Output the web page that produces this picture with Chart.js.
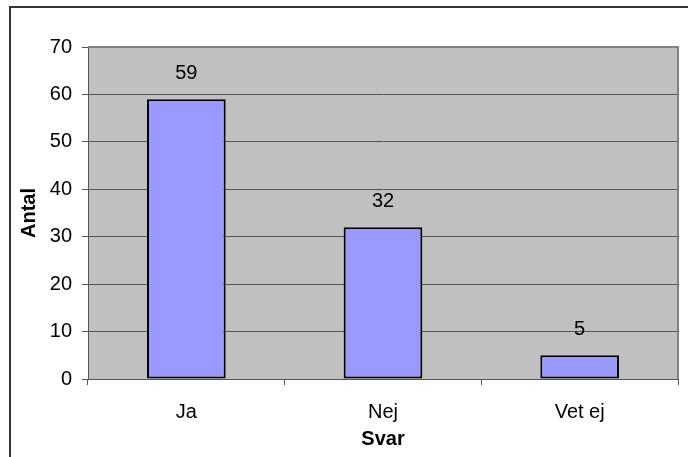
<!DOCTYPE html>
<html>
<head>
<meta charset="utf-8">
<script src="https://cdn.jsdelivr.net/npm/chart.js@4/dist/chart.umd.min.js"></script>
<style>
  body { margin: 0; background: #fff; }
  #wrap { width: 688px; height: 457px; }
</style>
</head>
<body>
<div id="wrap"><canvas id="svarChart" width="688" height="457"></canvas></div>
<script>
// Data
const categories = ['Ja', 'Nej', 'Vet ej'];
const antal = [59, 32, 5];
const yTicks = [0, 10, 20, 30, 40, 50, 60, 70];

const FONT = 'Liberation Sans, Arial, sans-serif';

// Plot area background, plot border and the outer chart frame
const frame = {
  id: 'frame',
  beforeDraw(chart) {
    const { ctx, chartArea: a } = chart;
    ctx.save();
    ctx.fillStyle = '#c0c0c0';
    ctx.fillRect(a.left, a.top, a.right - a.left, a.bottom - a.top);
    ctx.restore();
  },
  afterDraw(chart) {
    const { ctx, chartArea: a } = chart;
    ctx.save();
    // plot border (top & right)
    ctx.strokeStyle = '#808080';
    ctx.lineWidth = 2;
    ctx.beginPath();
    ctx.moveTo(a.left, a.top);
    ctx.lineTo(a.right, a.top);
    ctx.lineTo(a.right, a.bottom);
    ctx.stroke();
    // outer frame
    ctx.strokeStyle = '#333';
    ctx.lineWidth = 2;
    ctx.beginPath();
    ctx.moveTo(10, 460);
    ctx.lineTo(10, 7);
    ctx.lineTo(690, 7);
    ctx.stroke();
    ctx.restore();
  }
};

// Value labels above each bar
const valueLabels = {
  id: 'valueLabels',
  afterDatasetsDraw(chart) {
    const { ctx } = chart;
    const meta = chart.getDatasetMeta(0);
    ctx.save();
    ctx.font = '20px ' + FONT;
    ctx.fillStyle = '#000';
    ctx.textAlign = 'center';
    ctx.textBaseline = 'alphabetic';
    meta.data.forEach((bar, i) => {
      ctx.fillText(String(antal[i]), bar.x, bar.y - 20);
    });
    ctx.restore();
  }
};

new Chart(document.getElementById('svarChart'), {
  type: 'bar',
  data: {
    labels: categories,
    datasets: [{
      data: antal,
      backgroundColor: '#9999ff',
      borderColor: '#000',
      borderWidth: 2,
      borderSkipped: false,
      categoryPercentage: 1,
      barPercentage: 0.4
    }]
  },
  options: {
    responsive: false,
    animation: false,
    devicePixelRatio: 1,
    layout: { padding: { left: 10, top: 47, right: 10, bottom: 0 } },
    plugins: {
      legend: { display: false },
      tooltip: { enabled: false }
    },
    scales: {
      x: {
        offset: true,
        afterFit(scale) { scale.height = 78; },
        grid: {
          offset: true,
          drawOnChartArea: false,
          drawTicks: true,
          tickLength: 6,
          color: '#555'
        },
        border: { display: true, color: '#555', width: 1 },
        ticks: {
          padding: 15,
          color: '#000',
          font: { family: FONT, size: 20 }
        },
        title: {
          display: true,
          text: 'Svar',
          color: '#000',
          padding: { top: 0, bottom: 6 },
          font: { family: FONT, size: 20, weight: 'bold' }
        }
      },
      y: {
        min: 0,
        max: 70,
        afterFit(scale) { scale.width = 78; },
        afterBuildTicks(scale) { scale.ticks = yTicks.map(v => ({ value: v })); },
        grid: {
          color: '#555',
          tickLength: 6,
          drawTicks: true
        },
        border: { display: true, color: '#555', width: 1 },
        ticks: {
          padding: 10,
          color: '#000',
          font: { family: FONT, size: 20 }
        },
        title: {
          display: true,
          text: 'Antal',
          color: '#000',
          padding: { top: 7, bottom: 0 },
          font: { family: FONT, size: 20, weight: 'bold' }
        }
      }
    }
  },
  plugins: [frame, valueLabels]
});
</script>
</body>
</html>
